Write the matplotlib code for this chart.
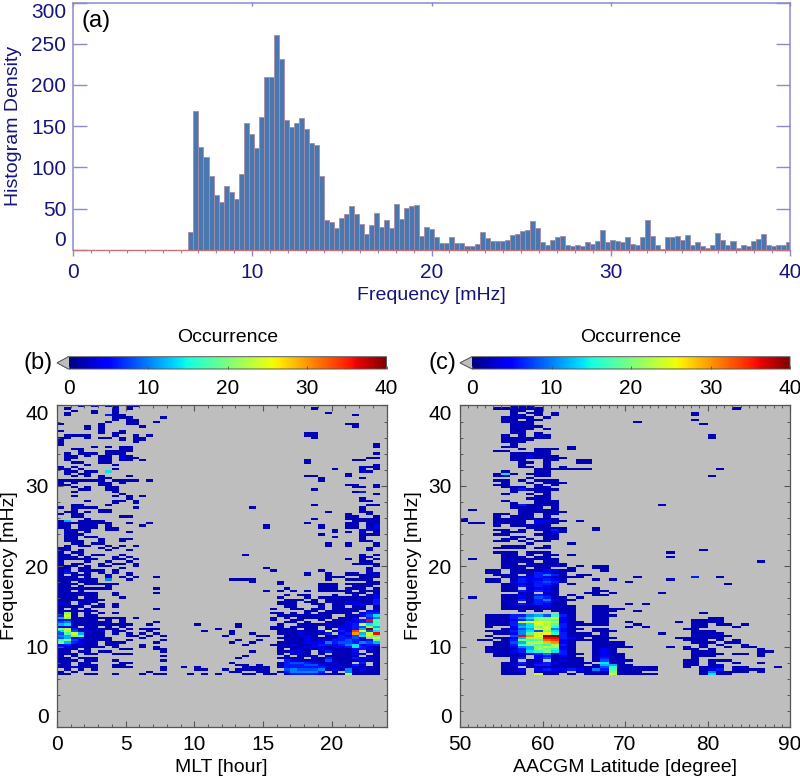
import numpy as np
import matplotlib
matplotlib.use("Agg")
import matplotlib.pyplot as plt
from matplotlib.ticker import MultipleLocator

plt.rcParams['font.family'] = ['Liberation Sans', 'DejaVu Sans']

W, H = 800, 777
NAVY = '#14147f'
AXBLUE = '#8a8ad0'
GRAY_BG = '#bebebe'
AXGRAY = '#555555'

BIN = 0.28
F0 = 6.44

# histogram density, first bin starts at F0
hist_values = [21, 168, 125, 112, 90, 66, 58, 77, 70, 62, 92, 154, 140, 123, 161,
               209, 209, 261, 231, 158, 149, 154, 160, 147, 130, 127, 90, 36, 34, 26,
               38, 43, 53, 43, 31, 19, 30, 45, 27, 36, 26, 55, 37, 51, 53, 54,
               17, 28, 25, 16, 8, 8, 16, 8, 8, 4, 5, 7, 21, 14, 10, 11, 10, 12, 18, 19,
               23, 24, 35, 26, 9, 6, 12, 16, 17, 6, 5, 6, 4, 9, 7, 10, 24, 9, 12, 11,
               9, 15, 7, 6, 16, 36, 17, 6, 1, 16, 16, 17, 12, 18, 6, 9, 5, 2, 6, 20,
               12, 6, 11, 2, 6, 5, 10, 13, 19, 6, 4, 6, 6, 9]

# occurrence vs MLT (0.5 h columns), top row = 40 mHz. '.' = nothing, else int(c, 36) * 2
mlt_rows = [
    "...1.1 .11.11 ...... ...... ...... ...... ...... ......",
    ".1.... ..1.1. ...... ...... ...... ...... .1.... ......",
    "..1..1 ..1... ...... ...... ...... ...... ...... ......",
    ".1...1 ..1... ...... ...... ...... ...... ...1.. ......",
    ".1.... .311.. ...... ...... ...... ...... ...... .1....",
    "...... ..111. ...1.. ...... ...... ...... ...... ......",
    "...... ..1.11 ...... ...... ...... ...... ...... ......",
    "...... .1..11 ..1... ...... ...... ...... ...... ......",
    "1..... 1...11 ...... ...... ...... ...... ...... 11....",
    "....1. 1..... 1..... ...... ...... ...... ...... .1....",
    "....1. 1..... ...... ...... ...... ...... ...... ......",
    "1..... 1..1.. ...... ...... ...... ...... ...... ......",
    "...... 1.11.. ...... ...... ...... ...... 11.... ......",
    ".1111. ..1..1 .1.... ...... ...... ...... 11.... ......",
    "11..1. 11.1.1 1..... ...... ...... ...... .1.... ......",
    "1..... ...1.1 1..... ...... ...... ...... ...... ......",
    "1..... .....1 ...... ...... ...... ...... ...... ......",
    "1..... ...... ...... ...... ...... ...... ...... ....1.",
    ".....1 .1.11. ...... ...... ...... ...... ...... ....1.",
    "..11.. ...11. ...... ...... ...... ...... ...... ......",
    "...1.. .1111. ...... ...... ...... ...... ...... ......",
    ".1.111 .111.. ...... ...... ...... ...... ...... ....1.",
    ".11.1. 11.21. ...... ...... ...... ...... ...... ......",
    ".11... 11.211 ...... ...... ...... ...... ...... ...11.",
    ".1.... 11.11. 1..... ...... ...... ...... 1..... .11...",
    "..11.. 11.... ...... ...... ...... ...... 1..... ......",
    "....1. ..1... ...... ...... ...... ...... ...... ....1.",
    "1.1... ...... ...... ...... ...... ...... ...... ..111.",
    "11.1.. ..1... ...... ...... ...... ...... ....1. ..1.1.",
    ".11.11 .7.... ...... ...... ...... ...... ...... ..21..",
    ".1.11. ...... ...... ...... ...... ...... ...... 1.....",
    "..1.1. 1...1. ...... ...... ...... ...... 11.... 1.....",
    "...... 11.... ...... ...... ...... ...... ..1... ..1...",
    "111111 1.1111 .1.... ...... ...... ...... ..1... ......",
    "1.1... 11.1.. ...... ...... ...... ...... ...... ......",
    "11.... 11.... ...... ...... ...... ...... ...... 11..1.",
    "..1.1. .11... ...... ...... ...... ...... ...... .11.1.",
    "...11. .11... ...... ...... ...... ...... .1.... ......",
    "..1... ..1... ...... ...... ...... ...... ...... .13...",
    "...... ...1.. ...... ...... ...... ...... ...... ....1.",
    "..1... ..1.1. 1..... ...... ...... ...... ...... ......",
    "...... ....1. ...... ...... ...... ...... ...... ..1...",
    "....1. ..11.1 ...... ...... ...... ...... ...... ..11..",
    "...... ..1..1 ...... ...... ...... ...... ...... ......",
    "..11.. .1.... ...... ...... ...... ...... .1.... ...11.",
    "1.1111 .....1 ...... ...... ....1. ...... ...... ..1...",
    "..1... 11.... ...... ...... ...... ...... ...... ..1...",
    ".11.1. 11.... ...... ...... ...... ...... ...1.. ..11..",
    "1.11.. ...... ...... ...... ...... ...... ...... 1..1..",
    "..11.. ...11. ...... ...... ...... ...... ...... 11..1.",
    "....1. ...... ...... ...... ...... ...... .1.... 111111",
    "16.111 1..... ...... ...... ...... ...... ...... .11111",
    "111111 11..1. .1.... ...... ...... ...... 1..... 11.111",
    "11.111 .1.... 1..... ...... ...... 1..... ..1... 11.121",
    "11.111 .11... ...... ...... ...... 1..... ..1... 11.121",
    ".1111. .11... ...... ...... ...... ...... ....1. ..2211",
    ".11.1. ....1. ...... ...... ...... ...... ....1. 1.1.11",
    ".111.. ...... ...... ...... ...... ...... ..1... ..111.",
    ".11.11 ...... ...... ...... ...... ...... ....1. ..1...",
    ".11... 1..11. ...... ...... ...... ...... ...... ..1...",
    ".111.. 1..1.. ...... ...... ...... ...... ...... ..11.1",
    "..11.1 1..... ...... ...... ...... ...... ...1.. 1...11",
    ".1.11. .1.1.1 ...... ...... ...... ...... ...1.. 1...11",
    "11.... 1.1... ...... ...... ...... ...... ...... ...1..",
    "11.1.. .1..1. ...... ...... ...... ...... ...... ...1..",
    "1.11.. ...... ...... ...... ...... ...... ...... ......",
    "11.1.1 1..1.. ...... ...... ...1.. ...... ...... ..1.1.",
    "111.1. ..1.1. ...... ...... ...... ...... ...... ..11.1",
    "111111 ..11.1 ...... ...... ...... ...... ...... 1.1.11",
    "1...1. .1..1. ...... ...... ...... ...... ...... ..11.1",
    "1.11.. 1.11.1 ...... ...... ...... ...... ...... .11111",
    "111.1. 11...1 ...... ...... ...... ...... ...... ....11",
    "11.11. ...1.. ...... ...... ...... 1..... ...... ...1..",
    "12.111 1.1... ...... ...... ...... .1.... ..1... ...1..",
    "131.1. 1.1.1. ...... ...... ...... ...... 1..1.. 11.111",
    "1.111. .1..1. ...... ...... ...... ...... 1..1.. 111122",
    "111.1. .1.1.1 ..1... ...... ...... ...... ...111 ..1111",
    "111111 .5..1. ...... ...... .1111. ...... ...1.. 1111.1",
    "11.111 ...... ...... ...... ....1. ..1... ...... ...112",
    "111.11 111... ...... ...... ...... ..1... ..111. 111111",
    "11.1.. .1.... ...... ...... ...... ...... ..111. .111.1",
    "111111 11.... ..1... ...... ...... ...1.. ..111. 111.11",
    "11.1.. ...... ...... ...... ...... 1.1.1. 1.1111 1.1111",
    "111111 ..1... ..1... ...... ...... ...... ...... 111.11",
    "111111 ..1... ...... ...... ...... ...1.1 1...1. .1.123",
    "111.11 ...1.. ...... ...... ...... ..1... 1.1111 111123",
    "111111 1..... ...... ...... ...... ...111 .1.111 111133",
    "21.111 ...... ...... ...... ...... ..111. 11.111 221133",
    "11.11. 1.1... ...... ...... ...... ..111. .11.11 122133",
    "1111.1 1.1... ...... ...... ...... ...11. ..1.11 .11.12",
    "1.1.1. ...... ..1... ...... ...... .1..11 .11.11 111.11",
    "111111 ...... ...... ...... ...... ...... 11.111 11.222",
    "1a1.1. 1.1... ...... ...... ...... .11.1. 1.1111 1.2332",
    "3c1.11 ...... ...... ...... ...... ..1111 1111.. 112471",
    "6a1111 1111.1 ...... ...... ...... .1.1.1 1111.1 12.352",
    "231111 .1.1.. ...... ...... ...... .1..11 ..1.11 123i93",
    "451111 11.1.. ..1... ...... ...... ...11. 1..111 223495",
    "671111 11111. .1.... ..1... ..1... ..1..1 111211 23c794",
    "221.11 .1.1.. ...... ...... ..1... .11.11 11.112 234a63",
    "ab3111 111.1. 111... .....1 ...... .1111. 11.1.2 236k93",
    "7c4121 1.11.. .1.... ...1.. .1.... ..1111 112c13 2hd472",
    "49c611 1.1.1. 1.1... ...... .1..1. ..1112 1113.2 3f6ci6",
    "56a911 1...11 .1.1.. ...... 1....1 1..111 21.113 247b94",
    "462311 11.... 1..... ...... ...... ..1111 211123 341.c5",
    "8a4211 11..1. ...1.. ...... ..1..1 ...111 212233 432396",
    "a63211 .111.. ..1... ...... .1..1. ..1111 222534 435463",
    "231211 .11... 1..... ...... ...1.. .11121 123323 572331",
    "321111 1.1... 1.1... ...... ...... ..1111 222122 373211",
    "111.1. ...11. ..11.. ...... ...... ..1.11 112111 123211",
    "11.11. 11.... ...1.. ...... ....1. ..1122 1.1311 12.111",
    "111.11 ..111. ...... ...... ...... ..1.11 1.1.11 122.11",
    "1.1... ...... ...1.. ...... ...1.. ...1.1 12.111 11.111",
    "11.111 ...... ...... ...... ..1... ..1111 .11311 132211",
    "111.11 ..1... ...1.. ...... ...... ...321 111411 112111",
    "11.11. ...11. ...... ...... .1.... ..1344 321221 1.3.11",
    "11.111 ..11.. ...... ...... ..11.1 ..1333 442111 131.11",
    "112111 ..111. ...1.. 1.1... ...111 1.1333 333212 121111",
    ".1.1.1 ...... ...1.. ..11.. 1.1111 1..454 445121 512111",
    "1.1... ...... .1.... ...... .11..1 1.1355 553.1. 511111",
    "11..11 ..1... 1.11.. .1.1.1 ...11. 11.133 332211 b11111",
]
mlt_columns = 47

# occurrence vs AACGM latitude (1 degree columns), same coding
lat_rows = [
    "...... 111... ...... ...... ...... ...... ....",
    "....11 1111.. ...... ...... ...... ...1.. ....",
    "...... 11.1.. ...... ...... ...... ...... ....",
    "...... 1.11.1 ...... ...... ....1. ...... ....",
    "...... 11.1.1 ...... ...... ....1. ...... ....",
    ".....1 111.1. ...... ...... ...... ...... ....",
    ".....1 1.11.. ...... ...... ....1. ...... ....",
    ".....1 111... ...... ...1.. ...... ...... ....",
    "...... 111... ...... ...... .....1 ...... ....",
    "...... 1111.. ...... ...... ...... ...... ....",
    "...... 111.1. ...... ...... ...... ...... ....",
    "...... 11.... ...... ...... ...... ...... ....",
    "...... 11.1.. ...... ...... ...... ...... ....",
    ".....1 .1.11. ...... ...... ...... 1..... ....",
    ".....1 11111. ...... ...... ...... 1..... ....",
    ".....1 111... ...... ...... ...... ...... ....",
    ".....1 11.... ...... ...... ...... ...... ....",
    "...... 1..... ...... ...... ...... ...... ....",
    ".....1 1..... .1.... ...... ...... ...... ....",
    "...... .1.111 .1.... ...... ...... ...... ....",
    "....11 ...11. ...... ...... ...... ...... ....",
    "...... 11111. ...... ...... ...... ...... ....",
    "...... 112111 ...... ...... ...... ...... ....",
    "...... 112111 1..... ...... ...... ...... ....",
    "...... 11..11 ..11.. ...... ...... ...... ....",
    "...... .11.1. ..11.. ...... ...... ...... ....",
    "...... .1..1. ...... ...... ...... ...... ....",
    "...... .11.1. 1..... ...... ...... ...... ....",
    "...... ...111 1111.. ...... ...... .1.... ....",
    ".....1 ...11. ...... ...... ...... ...... ....",
    "....17 1.111. ...... ...... ...... ...... ....",
    "....11 ...11. ...... ...... ...... 1..... ....",
    "...... ..1... ...... ...... ...... ...... ....",
    "....11 .1.111 ...... ...... ...... ...... ....",
    ".....1 ..1.11 1..... ...... ...... ...... ....",
    "....11 ...1.1 ...... ...... ...... ...... ....",
    ".....1 11.12. ...... ...... ...... ...... ....",
    "...... 131111 ...... ...... ...... ...... ....",
    "...... 1..11. ...... ...... ...... ...... ....",
    ".....1 ..1.1. ...... ...... ...... ...... ....",
    "...... ...11. ...... ...... ...... ...... ....",
    "...... ..111. ...... ...... ...... ...... ....",
    ".....1 ...111 ...... ...... ...... ...... ....",
    "...... 1..111 ...... ...... ...... ...... ....",
    "...... 131111 ...... ...... 1..... ...... ....",
    "...... 1111.1 ...... ...... ...... ...... ....",
    ".1.... .11111 ...... ...... ...... ...... ....",
    "...... .11111 1..... ...... ...... ...... ....",
    "....11 .11.11 ...... ...... ...... ...... ....",
    "....1. 111.1. ...... ...... ...... ...... ....",
    "1...11 111111 ...... ...... ...... ...... ....",
    "1...11 11.221 1.1... ...... ...... ...... ....",
    ".11.11 11.211 ...... ...... ...... ...... ....",
    "....1. 11111. ...... ...... ...... ...... ....",
    "...... ..1111 1...1. ...... ...... ...... ....",
    "....11 .1.113 1...1. ...... ...... ...... ....",
    ".....1 11..12 1..... ...... ...... ...... ....",
    "....11 ...111 ...... ...... ...... ...... ....",
    "...... 11..11 ...... ...... ...... ...... ....",
    ".....1 1.1.11 ...... ...... ...... ...... ....",
    "....11 .1.11. ...... ...... ...... ...... ....",
    "...... ..1... .1.... ...... ...... ...... ....",
    ".....1 11..1. ...... ...... ...... ...... ....",
    "....11 11.11. ...... ...... ...... ...... ....",
    "...... ...... ...... ...... .....1 ...... ....",
    "....11 1.111. ...... ...... .1.... ...... ....",
    ".....1 1.1.11 .1.... ...... ...... ...... ....",
    ".....1 11.11. ...... ...... .1.... ...... ....",
    ".1...1 111111 ...... ...... ...... ...... ....",
    ".....1 111.11 ...... ...... ...... ...... 1...",
    ".....1 1.1111 1..... ...... ...... ...... ....",
    ".....1 111112 1.1.11 ...... ...... ...... ....",
    ".....1 11.11. .1..11 ...... ...... ...... ....",
    "...11. 111122 11...1 ...... ...... ...... ....",
    "...11. 111321 1..... ...... ...... ...... ....",
    "....11 1.1353 1.11.. ...... ...... ...... ....",
    ".....1 122321 111... ...1.. ....3. .1.... ....",
    "...11. 132232 1...1. 1..... .1.... ...... ....",
    "...11. 232343 1..... ..1... ...... ...... ....",
    ".....1 121332 .1.... ...... ...... ..1... ....",
    ".....1 132321 ...... ...... ...... ...... ....",
    ".....1 1.1221 ....1. ...... ...... ...... ....",
    ".....1 132321 ....11 ...... ...... ...... ....",
    "...... .11.11 ...11. 1..... 1..... ...... ....",
    ".....1 121321 .1..11 ...... ...... ...... ....",
    ".1...1 121431 1.1... ...... ...... ...... ....",
    ".....1 131352 11.... ...... ...... ...... ....",
    ".....1 1.1331 1..... ...... ...... ...... ....",
    ".....1 232321 1..... ..1.1. ...... ...... ....",
    ".....1 111121 11..11 ...... ...... ...... ....",
    ".....1 111111 11..11 11.... ...... ...... ....",
    "...... .1.1.1 11..11 1..1.. ...... ...... ....",
    "...... ...... 11..11 ...... .....1 ...... ....",
    "...111 335648 31..11 1..... ...... ...... ....",
    "...111 357aac 21..11 ...... ...... 11.... ....",
    "...111 235aa9 21..11 ...... ....11 11.... ....",
    "...111 3ccdcb 211.11 ..1... ..1.11 11.... ....",
    "...111 357cb9 311111 ...1.. ....11 .11.1. ....",
    "...1.. 267ac8 31.... ..1.1. ....11 ...1.. ....",
    ".....1 246cc5 211.11 ...... ...11. ...... ....",
    "...111 3574a7 21..11 1..... ....11 1..... ....",
    "....11 259cd8 3111.1 ...... 1...11 11.... ....",
    "...1.. 4ifdkk 311111 ...... ....11 111... ....",
    "....11 26bbii 321.11 1..... ..1111 11.... ....",
    "..11.1 3a89gh 211111 ...... ...111 .1.1.. ....",
    "....11 46bcef 21..11 11.... ....11 1.11.. ....",
    "....11 38a98b 31..11 11.... .....1 .1..1. ....",
    "...111 256acb 21..11 111... .1.1.1 ..1.11 ....",
    "...111 136b98 21..12 1..... ...11. 1..... 1...",
    "...111 2378a7 31..12 1..... ....11 1..... 11..",
    "....11 112351 311.12 11.... ....11 11.11. 1...",
    "....11 11.231 21..12 11.... ....11 1..... 1...",
    "...... 13.241 111.13 11.... ....1. ...... ....",
    "...... 1.11.1 211.14 111... ...11. 111... ....",
    ".....1 131232 1111.7 11.... ...11. 1..1.. 1...",
    ".....1 221331 111.16 611... ...11. 12.... ....",
    ".....1 1.1111 111114 811111 ...1.1 11.11. ..1.",
    ".....1 12.232 232153 911111 .....1 23.111 1...",
    ".....1 11.111 1.1111 a111.. .....1 51111. 1...",
    ".....1 11.c11 .1.111 c11111 .....1 711... ....",
]
latitude_columns = 40


def parse_rows(rows, ncol):
    grid = np.full((len(rows), ncol), np.nan)
    for i, row in enumerate(rows):
        row = row.replace(' ', '')[:ncol]
        for j, c in enumerate(row):
            if c != '.':
                grid[i, j] = int(c, 36) * 2
    return grid[::-1]


def px_axes(fig, left, top, right, bottom):
    return fig.add_axes([left / W, 1 - bottom / H, (right - left) / W, (bottom - top) / H])


def nudge_end_labels(ax):
    # bottom and top tick labels sit inside the axis range
    lo, hi = ax.get_ylim()
    for tick in ax.yaxis.get_major_ticks():
        if abs(tick.get_loc() - lo) < 1e-6:
            tick.label1.set_verticalalignment('bottom')
        elif abs(tick.get_loc() - hi) < 1e-6:
            tick.label1.set_verticalalignment('top')


fig = plt.figure(figsize=(W / 100, H / 100), dpi=100)

# panel a
ax = px_axes(fig, 73, 2.5, 790, 249.7)
freq = F0 + np.arange(len(hist_values)) * BIN
ax.bar(freq, hist_values, width=BIN, align='edge', color='#4a78ae', edgecolor='#a98aa6', linewidth=0.6)
ax.plot([0, 40], [0, 0], color='#c8707c', lw=1, clip_on=False)
ax.set_xlim(0, 40)
ax.set_ylim(0, 300)
ax.spines['bottom'].set_visible(False)
for s in ['top', 'left', 'right']:
    ax.spines[s].set_color(AXBLUE)
    ax.spines[s].set_linewidth(1.1)
ax.xaxis.set_major_locator(MultipleLocator(10))
ax.xaxis.set_minor_locator(MultipleLocator(1))
ax.yaxis.set_major_locator(MultipleLocator(50))
ax.tick_params(axis='x', which='major', direction='out', length=4.5, color=AXBLUE, width=1, labelsize=15, labelcolor=NAVY, pad=5)
ax.tick_params(axis='x', which='minor', direction='out', length=2.5, color=AXBLUE, width=0.8)
ax.tick_params(axis='y', which='major', direction='in', length=10, color=AXBLUE, width=1, labelsize=15, labelcolor=NAVY, right=True, pad=5)
top_axis = ax.secondary_xaxis('top')
top_axis.xaxis.set_major_locator(MultipleLocator(10))
top_axis.tick_params(direction='in', length=3, color=AXBLUE, width=1, labeltop=False)
top_axis.spines['top'].set_visible(False)
fig.canvas.draw()
nudge_end_labels(ax)
fig.text(431 / W, 1 - 295 / H, 'Frequency [mHz]', color=NAVY, fontsize=14, ha='center', va='center')
fig.text(14 / W, 1 - 126 / H, 'Histogram Density', color=NAVY, fontsize=14, ha='center', va='center', rotation=90)
fig.text(96 / W, 1 - 21 / H, '(a)', color='black', fontsize=17, ha='center', va='center')

# panels b and c
panels = [
    (57, 386.5, 68.5, 38, '(b)', 'MLT [hour]', (0, 24), 5, 1, parse_rows(mlt_rows, mlt_columns),
     np.arange(mlt_columns + 1) * 0.5, 10),
    (460, 790, 472, 442, '(c)', 'AACGM Latitude [degree]', (50, 90), 10, 1, parse_rows(lat_rows, latitude_columns),
     50 + np.arange(latitude_columns + 1) * 1.0, 414),
]
cmap = plt.get_cmap('jet').copy()
cmap.set_under(GRAY_BG)
for left, right, bar_left, tag_x, tag, xlabel, xlim, xmaj, xmin, grid, x_edges, ylab_x in panels:
    ax = px_axes(fig, left, 405.5, right, 727)
    ax.set_facecolor(GRAY_BG)
    y_edges = F0 + np.arange(grid.shape[0] + 1) * BIN
    mesh = ax.pcolormesh(x_edges, y_edges, np.ma.masked_invalid(grid), cmap=cmap, vmin=0, vmax=40)
    ax.set_xlim(*xlim)
    ax.set_ylim(0, 40)
    for s in ax.spines.values():
        s.set_color(AXGRAY)
        s.set_linewidth(0.9)
    ax.xaxis.set_major_locator(MultipleLocator(xmaj))
    ax.xaxis.set_minor_locator(MultipleLocator(xmin))
    ax.yaxis.set_major_locator(MultipleLocator(10))
    ax.yaxis.set_minor_locator(MultipleLocator(2))
    ax.tick_params(which='major', direction='in', length=4.5, width=0.8, color=AXGRAY, top=True, right=True, labelsize=15, pad=6)
    ax.tick_params(which='minor', direction='in', length=2.5, width=0.7, color=AXGRAY, top=True, right=True)
    fig.canvas.draw()
    nudge_end_labels(ax)
    fig.text((left + right) / 2 / W, 1 - 767 / H, xlabel, fontsize=14, ha='center', va='center')
    fig.text(ylab_x / W, 1 - 566 / H, 'Frequency [mHz]', fontsize=14, ha='center', va='center', rotation=90)
    fig.text(tag_x / W, 1 - 362.5 / H, tag, fontsize=17, ha='center', va='center')

    cax = px_axes(fig, left, 356.7, right, 369)
    cb = fig.colorbar(mesh, cax=cax, orientation='horizontal', extend='min',
                      extendfrac=(bar_left - left) / (right - bar_left))
    cb.set_ticks([0, 10, 20, 30, 40])
    cb.outline.set_edgecolor(AXGRAY)
    cb.outline.set_linewidth(0.7)
    cb.ax.tick_params(direction='in', length=2, width=0.6, color=AXGRAY, labelsize=15, pad=7)
    fig.text((bar_left + right) / 2 / W, 1 - 338 / H, 'Occurrence', fontsize=14, ha='center', va='center')

fig.savefig('out.png', dpi=100)
